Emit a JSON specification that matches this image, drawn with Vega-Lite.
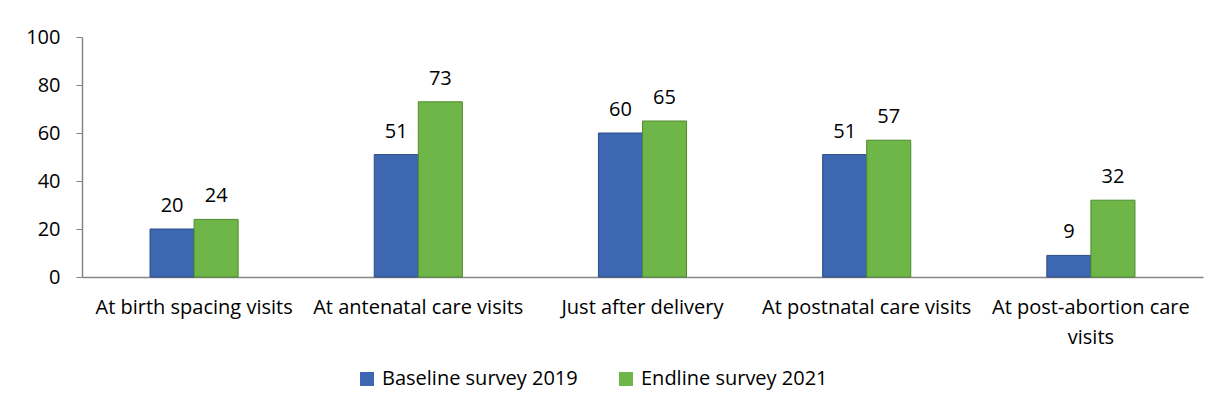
{
  "$schema": "https://vega.github.io/schema/vega-lite/v6.json",
  "autosize": {"type": "none"},
  "width": 1121,
  "height": 240,
  "padding": {"left": 82, "top": 37, "right": 25, "bottom": 134},
  "background": "white",
  "config": {
    "view": {"stroke": null},
    "font": "Open Sans"
  },
  "data": {
    "values": [
      {"category": "At birth spacing visits", "series": "Baseline survey 2019", "value": 20},
      {"category": "At birth spacing visits", "series": "Endline survey 2021", "value": 24},
      {"category": "At antenatal care visits", "series": "Baseline survey 2019", "value": 51},
      {"category": "At antenatal care visits", "series": "Endline survey 2021", "value": 73},
      {"category": "Just after delivery", "series": "Baseline survey 2019", "value": 60},
      {"category": "Just after delivery", "series": "Endline survey 2021", "value": 65},
      {"category": "At postnatal care visits", "series": "Baseline survey 2019", "value": 51},
      {"category": "At postnatal care visits", "series": "Endline survey 2021", "value": 57},
      {"category": "At post-abortion care visits", "series": "Baseline survey 2019", "value": 9},
      {"category": "At post-abortion care visits", "series": "Endline survey 2021", "value": 32}
    ]
  },
  "encoding": {
    "x": {
      "field": "category",
      "type": "nominal",
      "sort": null,
      "scale": {"paddingInner": 0.607, "paddingOuter": 0.3035},
      "axis": {
        "title": null,
        "labelAngle": 0,
        "labelFont": "Open Sans",
        "labelFontSize": 20,
        "labelColor": "#000000",
        "labelPadding": 36,
        "labelBaseline": "alphabetic",
        "labelLimit": 0,
        "labelLineHeight": 30,
        "ticks": false,
        "domainColor": "#868686",
        "domainWidth": 1.5,
        "labelExpr": "datum.value == 'At post-abortion care visits' ? ['At post-abortion care', 'visits'] : datum.value"
      }
    },
    "xOffset": {"field": "series", "type": "nominal", "scale": {"paddingInner": 0}},
    "y": {
      "field": "value",
      "type": "quantitative",
      "scale": {"domain": [0, 100], "nice": false},
      "axis": {
        "title": null,
        "values": [0, 20, 40, 60, 80, 100],
        "grid": false,
        "labelFont": "Open Sans",
        "labelFontSize": 20,
        "labelColor": "#000000",
        "labelPadding": 16,
        "tickSize": 6,
        "tickColor": "#868686",
        "domainColor": "#868686",
        "domainWidth": 1.5
      }
    }
  },
  "layer": [
    {
      "mark": {"type": "bar", "strokeWidth": 1},
      "encoding": {
        "color": {
          "field": "series",
          "type": "nominal",
          "scale": {"range": ["#3d67b1", "#6fb648"]},
          "legend": {
            "title": null,
            "orient": "none",
            "direction": "horizontal",
            "legendX": 275,
            "legendY": 332,
            "symbolType": "square",
            "symbolSize": 196,
            "symbolStrokeWidth": 0,
            "labelFont": "Open Sans",
            "labelFontSize": 20,
            "labelColor": "#000000",
            "labelLimit": 400,
            "columnPadding": 38,
            "labelOffset": 5
          }
        },
        "stroke": {
          "field": "series",
          "type": "nominal",
          "scale": {"range": ["#2a4a86", "#4f8a2e"]},
          "legend": null
        }
      }
    },
    {
      "mark": {"type": "text", "dy": -17, "baseline": "alphabetic", "font": "Open Sans", "fontSize": 20, "color": "#000000"},
      "encoding": {"text": {"field": "value", "type": "quantitative"}}
    }
  ]
}
